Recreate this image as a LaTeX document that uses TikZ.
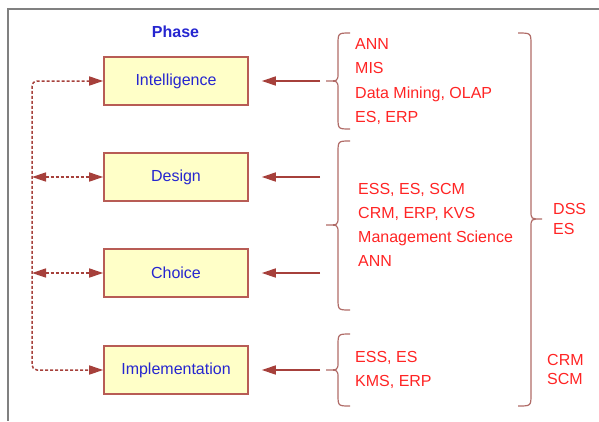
\documentclass[tikz,border=0pt]{standalone}
\usepackage{fontspec}
\setmainfont{Liberation Sans}
\usetikzlibrary{arrows.meta}

\definecolor{framegray}{HTML}{808080}
\definecolor{boxfill}{HTML}{FFFFC8}
\definecolor{boxline}{HTML}{B85C55}
\definecolor{arrowred}{HTML}{A6403B}
\definecolor{bracered}{HTML}{B06B67}
\definecolor{phaseblue}{HTML}{2626D0}
\definecolor{techred}{HTML}{FF2424}

\tikzset{headtri/.tip={Triangle[length=14pt,width=9pt]}}

% curly brace: #1 end x, #2 stem x, #3 tip x, #4 top y, #5 mid y, #6 bottom y
\newcommand\curlybrace[6]{%
  \draw[bracestyle] (#1,#4) .. controls (#2,#4) .. (#2,{#4+12})
    -- (#2,{#5-8}) .. controls (#2,#5) .. (#3,#5)
    .. controls (#2,#5) .. (#2,{#5+8})
    -- (#2,{#6-12}) .. controls (#2,#6) .. (#1,#6);}

\begin{document}
\begin{tikzpicture}[x=1pt,y=-1pt,
  every node/.style={font=\fontsize{16}{19}\selectfont, inner sep=0pt},
  phasebox/.style={draw=boxline, line width=1.6pt, fill=boxfill,
    minimum width=144pt, minimum height=48pt, text=phaseblue},
  tech/.style={anchor=west, text=techred, text height=11.5pt, text depth=0pt},
  feed/.style={draw=arrowred, line width=1.6pt, shorten >=13pt, -headtri},
  loop/.style={draw=arrowred, line width=1.5pt, dash pattern=on 3pt off 2pt,
    rounded corners=5pt, headtri-headtri},
  bracestyle/.style={draw=bracered, line width=1.2pt}]
\useasboundingbox (0,0) rectangle (599,421);

% frame
\draw[framegray, line width=2pt] (599,9) -- (8,9) -- (8,421);

% heading
\node[font=\fontsize{16}{19}\selectfont\bfseries, text=phaseblue] (phase) at (175.5,32) {Phase};

% phases
\node[phasebox] (int) at (176,81)  {Intelligence};
\node[phasebox] (des) at (176,177) {Design};
\node[phasebox] (cho) at (176,273) {Choice};
\node[phasebox] (imp) at (176,370) {Implementation};

% feedback loop
\coordinate (busbot) at (32,370);
\draw[loop] (int.west) -| (busbot) -- (imp.west);
\draw[loop] (des.west -| busbot) -- (des.west);
\draw[loop] (cho.west -| busbot) -- (cho.west);

% inputs from the technology groups
\coordinate (inInt) at (320,81);
\coordinate (inDes) at (320,177);
\coordinate (inCho) at (320,273);
\coordinate (inImp) at (320,370);
\draw[feed] (inInt) -- (int);
\draw[feed] (inDes) -- (des);
\draw[feed] (inCho) -- (cho);
\draw[feed] (inImp) -- (imp);

% braces
\curlybrace{350}{338}{326}{33}{81}{129}
\curlybrace{350}{338}{326}{141}{225}{310}
\curlybrace{350}{338}{326}{334}{370}{406}
\curlybrace{518}{531}{542}{33}{219}{406}

% technology lists
\node[tech] (t1) at (355,43.5)  {ANN};
\node[tech] (t2) at (355,68)    {MIS};
\node[tech] (t3) at (355,92.5)  {Data Mining, OLAP};
\node[tech] (t4) at (355,116.5) {ES, ERP};

\node[tech] (t5) at (358,188.3) {ESS, ES, SCM};
\node[tech] (t6) at (358,212.5) {CRM, ERP, KVS};
\node[tech] (t7) at (358,236.7) {Management Science};
\node[tech] (t8) at (358,260.8) {ANN};

\node[tech] (t9)  at (355,356.8) {ESS, ES};
\node[tech] (t10) at (355,380.8) {KMS, ERP};

\node[tech] (t11) at (553,209) {DSS};
\node[tech] (t12) at (553,228.5) {ES};
\node[tech] (t13) at (547,359.5) {CRM};
\node[tech] (t14) at (547,378.5) {SCM};
\end{tikzpicture}
\end{document}
